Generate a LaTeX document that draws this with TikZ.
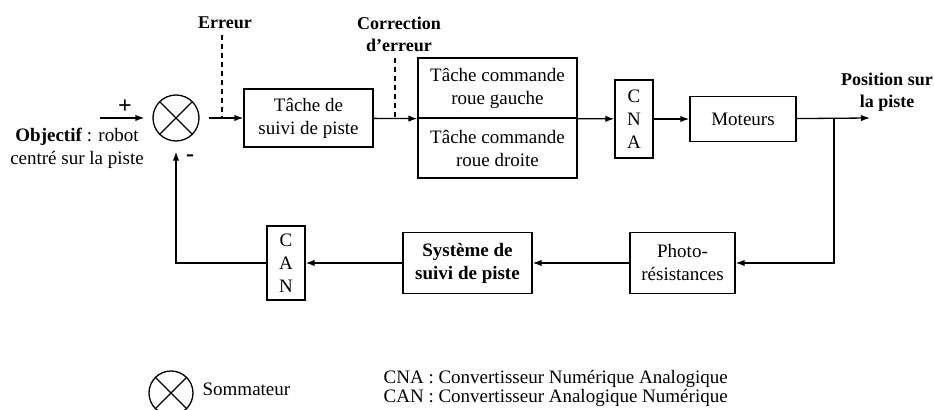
\documentclass[tikz,border=0pt]{standalone}
\usepackage{fontspec}
\setmainfont{Liberation Serif}
\usepackage{tikz}
\usetikzlibrary{arrows.meta}

\tikzset{
  bloc/.style={draw, line width=0.65pt, inner sep=0pt, align=center},
  fleche/.style={-{Latex[length=4.5pt,width=3.2pt]}},
  pointille/.style={dash pattern=on 2.5pt off 2pt},
  titre/.style={font=\fontsize{9}{11}\selectfont\bfseries, align=center},
}

\begin{document}
\begin{tikzpicture}[x=0.5pt, y=-0.5pt, line width=0.65pt, font=\fontsize{9.5}{11.5}\selectfont]
  \useasboundingbox (0,0) rectangle (934,410);
  % sommateur
  \node[draw, circle, minimum size=23pt, inner sep=0pt] (som) at (176,118) {};
  \draw (som.north west) -- (som.south east) (som.north east) -- (som.south west);
  \coordinate (entree) at (100,118);
  \node[font=\fontsize{12}{12}\selectfont\bfseries] (plus) at (125,107) {+};
  \node[font=\fontsize{12}{12}\selectfont\bfseries] (moins) at (190,158) {-};
  \node[align=center] (objectif) at (77,148) {\textbf{Objectif} : robot\\centré sur la piste};
  % chaine directe
  \node[bloc, minimum width=64.5pt, minimum height=29pt] (suivi) at (308.5,118) {Tâche de\\suivi de piste};
  \node[bloc, minimum width=79.5pt, minimum height=30pt] (gauche) at (497.5,88) {Tâche commande\\roue gauche};
  \node[bloc, minimum width=79.5pt, minimum height=30pt] (droite) at (497.5,148) {Tâche commande\\roue droite};
  \node[bloc, minimum width=19pt, minimum height=39pt] (cna) at (634,119) {C\\N\\A};
  \node[bloc, minimum width=53pt, minimum height=22.5pt] (moteurs) at (743,119) {Moteurs};
  \coordinate (sortie) at (870,118);
  \coordinate (branche) at (834,118);
  \coordinate (coin) at (834,263);
  \node[titre] (position) at (887,92) {Position sur\\la piste};
  % chaine de retour
  \node[bloc, minimum width=52.5pt, minimum height=30.5pt] (photo) at (682.5,263) {Photo-\\résistances};
  \node[bloc, minimum width=64.5pt, minimum height=30.5pt, font=\fontsize{9.5}{11.5}\selectfont\bfseries] (systeme) at (467.5,263) {Système de\\suivi de piste};
  \node[bloc, minimum width=19pt, minimum height=37pt] (can) at (286,263) {C\\A\\N};
  % fleches
  \draw[fleche, shorten >=4pt] (entree) -- (som);
  \draw[fleche, shorten <=4.5pt] (som) -- (suivi);
  \draw[fleche] (suivi) -- (gauche.south west);
  \draw[fleche] (gauche.south east) -- (cna);
  \draw[fleche] (cna) -- (moteurs);
  \draw[fleche] (moteurs) -- (sortie);
  \draw[fleche] (branche) -- (coin) -- (photo);
  \draw[fleche] (photo) -- (systeme);
  \draw[fleche] (systeme) -- (can);
  \draw[fleche, shorten >=5pt] (can) -| (som);
  % signaux
  \node[titre] (erreur) at (225,23) {Erreur};
  \draw[pointille] (222,35) -- (222,118);
  \node[titre] (correction) at (399,34) {Correction\\d'erreur};
  \draw[pointille] (395,58) -- (395,118);
  % legende
  \node[draw, circle, minimum size=22pt, inner sep=0pt] (legsom) at (171,393) {};
  \draw (legsom.north west) -- (legsom.south east) (legsom.north east) -- (legsom.south west);
  \node[anchor=west, inner sep=0pt] (legtexte) at (202,389) {Sommateur};
  \node[anchor=west, inner sep=0pt] (legcna) at (383,379) {CNA : Convertisseur Numérique Analogique};
  \node[anchor=west, inner sep=0pt] (legcan) at (383,398) {CAN : Convertisseur Analogique Numérique};
\end{tikzpicture}
\end{document}
